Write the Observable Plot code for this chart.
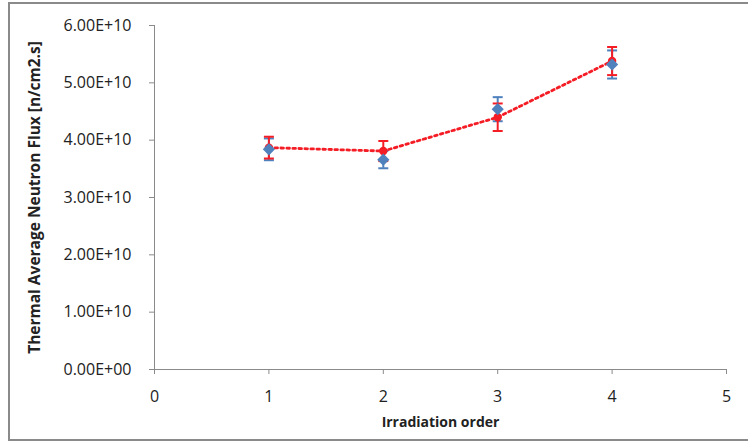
<!DOCTYPE html>
<html>
<head>
<meta charset="utf-8">
<script src="https://cdn.jsdelivr.net/npm/d3@7"></script>
<script src="https://cdn.jsdelivr.net/npm/@observablehq/plot@0.6"></script>
<style>
  html, body { margin: 0; padding: 0; background: #fff; }
  #wrap { position: relative; width: 748px; height: 445px; overflow: hidden; }
  #wrap svg { position: absolute; left: 0; top: 0; }
  #border { position: absolute; left: 8px; top: 2px; width: 742px; height: 439px; border: 2px solid #8a8a8a; box-sizing: border-box; pointer-events: none; }
</style>
</head>
<body>
<div id="wrap"><div id="border"></div></div>
<script>
// Data
const irradiationOrder = [1, 2, 3, 4];
const fluxRed = [3.87e10, 3.81e10, 4.40e10, 5.38e10];
const errRed = [0.19e10, 0.175e10, 0.24e10, 0.245e10];
const fluxBlue = [3.84e10, 3.66e10, 4.54e10, 5.32e10];
const errBlue = [0.19e10, 0.15e10, 0.21e10, 0.245e10];

const xTicks = [0, 1, 2, 3, 4, 5];
const yTicks = [0, 1e10, 2e10, 3e10, 4e10, 5e10, 6e10];
const yTickLabels = ["0.00E+00", "1.00E+10", "2.00E+10", "3.00E+10", "4.00E+10", "5.00E+10", "6.00E+10"];
const xLabel = "Irradiation order";
const yLabel = "Thermal Average Neutron Flux [n/cm2.s]";

const red = irradiationOrder.map((x, i) => ({x, y: fluxRed[i], e: errRed[i]}));
const blue = irradiationOrder.map((x, i) => ({x, y: fluxBlue[i], e: errBlue[i]}));

const RED = "#f51d25";
const BLUE = "#4f81bd";
const AXIS = "#8a8a8a";

const capSymbol = {
  draw(ctx, size) {
    const w = Math.sqrt(size / Math.PI);
    ctx.moveTo(-w, 0);
    ctx.lineTo(w, 0);
  }
};

function bars(data, color) {
  return [
    Plot.ruleX(data, {x: "x", y1: d => d.y - d.e, y2: d => d.y + d.e, stroke: color, strokeWidth: 2}),
    Plot.dot(data, {x: "x", y: d => d.y + d.e, symbol: capSymbol, r: 5, stroke: color, strokeWidth: 2, fill: "none"}),
    Plot.dot(data, {x: "x", y: d => d.y - d.e, symbol: capSymbol, r: 5, stroke: color, strokeWidth: 2, fill: "none"})
  ];
}

const chart = Plot.plot({
  width: 748,
  height: 445,
  marginLeft: 154,
  marginRight: 22,
  marginTop: 25,
  marginBottom: 76,
  style: {fontFamily: "'Open Sans', sans-serif", fontSize: "16px", color: "#222", background: "transparent"},
  x: {domain: [0, 5]},
  y: {domain: [0, 6e10]},
  marks: [
    Plot.ruleX([0], {stroke: AXIS, strokeWidth: 1}),
    Plot.ruleY([0], {stroke: AXIS, strokeWidth: 1}),
    Plot.axisY({ticks: yTicks, tickFormat: d => yTickLabels[yTicks.indexOf(d)], tickSize: 5, tickPadding: 18, stroke: AXIS, label: null, fontSize: 16}),
    Plot.axisX({ticks: xTicks, tickFormat: d => String(d), tickSize: 5, tickPadding: 16, stroke: AXIS, label: null, fontSize: 16}),
    Plot.text([xLabel], {frameAnchor: "bottom", dy: 57, fontWeight: "bold", fontFamily: "Open Sans", fontSize: 14, fill: "#222"}),
    Plot.text([yLabel], {frameAnchor: "left", dx: -119, rotate: -90, textAnchor: "middle", fontWeight: "bold", fontFamily: "Open Sans", fontSize: 15.5, fill: "#222"}),
    ...bars(blue, BLUE),
    ...bars(red, RED),
    Plot.line(red, {x: "x", y: "y", stroke: RED, strokeWidth: 2.8, strokeDasharray: "2.6 3.4"}),
    Plot.dot(red, {x: "x", y: "y", r: 4.2, fill: RED, stroke: "none"}),
    Plot.dot(blue, {x: "x", y: "y", symbol: "diamond2", r: 5.5, fill: BLUE, stroke: "none"})
  ]
});
document.getElementById("wrap").prepend(chart);
</script>
</body>
</html>
